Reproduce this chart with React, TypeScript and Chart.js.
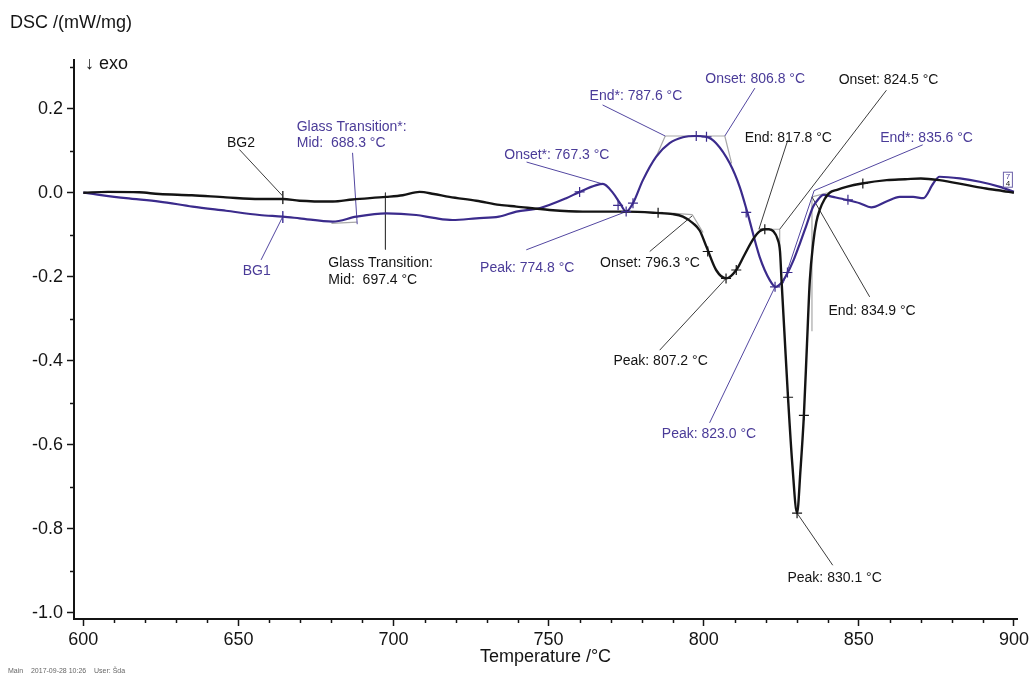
import React, { useEffect, useRef } from 'react';
import { Chart, registerables } from 'chart.js';

Chart.register(...registerables);

// ---- Curve data (Temperature °C, DSC mW/mg) ----
const blackT = [600, 608, 618, 624.5, 635, 646, 656.8, 664.3, 669.7, 680.4, 686.8, 697.6, 703, 708.4, 713, 718, 726.7, 734.2, 739.6, 750.3, 761, 775, 784.7, 790, 793.3, 796.6, 798.7, 800.9, 804, 807.3, 810.5, 813, 816, 818, 819.7, 821, 822.5, 823.8, 824.6, 825.1, 826, 827.2, 828.6, 830.1, 831.2, 832.3, 833.3, 834.2, 835.3, 836.3, 837.4, 839, 840.6, 843, 846, 851, 859, 865, 870, 876, 885, 891, 895, 900];
const blackV = [0, 0.002, 0.001, -0.003, -0.006, -0.011, -0.015, -0.015, -0.019, -0.021, -0.016, -0.01, -0.006, 0.002, -0.003, -0.01, -0.019, -0.029, -0.033, -0.041, -0.045, -0.045, -0.048, -0.051, -0.057, -0.073, -0.09, -0.129, -0.184, -0.204, -0.184, -0.15, -0.11, -0.092, -0.087, -0.087, -0.092, -0.11, -0.14, -0.21, -0.33, -0.49, -0.65, -0.763, -0.66, -0.53, -0.36, -0.21, -0.12, -0.07, -0.041, -0.015, 0.0, 0.007, 0.014, 0.022, 0.03, 0.032, 0.034, 0.03, 0.018, 0.01, 0.006, 0.0];

const blueT = [600, 613.8, 624.5, 635.2, 646, 656.8, 664.3, 669.7, 680.4, 688, 697.6, 707.3, 713, 719, 726.7, 734, 739.6, 747, 755.7, 760, 765.4, 767.5, 770.8, 773, 775, 777.2, 780.4, 784.7, 789, 793.3, 797.6, 800.9, 804, 808.4, 811.6, 814, 818, 821.3, 823.2, 825, 826.7, 829, 831, 833, 835.3, 837, 838.5, 841.7, 846, 850.3, 854, 858.9, 863.2, 867.5, 870.8, 874, 876, 882.6, 889, 895.5, 900];
const blueV = [0, -0.013, -0.021, -0.033, -0.043, -0.053, -0.057, -0.061, -0.069, -0.057, -0.049, -0.053, -0.06, -0.065, -0.061, -0.057, -0.045, -0.037, -0.013, 0.002, 0.018, 0.021, -0.001, -0.025, -0.045, -0.025, 0.03, 0.086, 0.118, 0.132, 0.135, 0.133, 0.118, 0.07, 0.014, -0.045, -0.152, -0.208, -0.224, -0.215, -0.196, -0.16, -0.121, -0.08, -0.033, -0.015, -0.005, -0.01, -0.017, -0.025, -0.035, -0.021, -0.01, -0.01, -0.013, 0.022, 0.038, 0.034, 0.026, 0.014, 0.002];

// ---- Evaluation markers (+) ----
const blackCrossT = [785.3, 801.3, 807.2, 810.5, 819.7, 827.2, 830.1, 832.3, 851.3];
const blackCrossV = [-0.048, -0.14, -0.204, -0.184, -0.087, -0.487, -0.763, -0.53, 0.022];
const blueCrossT = [760, 772.4, 775, 777.2, 797.6, 800.9, 813.7, 823.0, 827.0, 846.5];
const blueCrossV = [0.002, -0.03, -0.045, -0.025, 0.135, 0.133, -0.047, -0.224, -0.19, -0.017];

// ---- Axis ticks ----
const xTicks = [600, 650, 700, 750, 800, 850, 900];
const xMinor = [610, 620, 630, 640, 660, 670, 680, 690, 710, 720, 730, 740, 760, 770, 780, 790, 810, 820, 830, 840, 860, 870, 880, 890];
const yTicks = [-1.0, -0.8, -0.6, -0.4, -0.2, 0.0, 0.2];
const yMinor = [-0.9, -0.7, -0.5, -0.3, -0.1, 0.1, 0.3];

// ---- Annotation texts (anchored in data units: temperature, value) ----
const blackLabels = [
  { lines: ['BG2'], t: 646.3, v: 0.119 },
  { lines: ['Glass Transition:', 'Mid:  697.4 °C'], t: 679, v: -0.168 },
  { lines: ['Onset: 796.3 °C'], t: 766.6, v: -0.168 },
  { lines: ['End: 817.8 °C'], t: 813.2, v: 0.13 },
  { lines: ['Onset: 824.5 °C'], t: 843.5, v: 0.267 },
  { lines: ['End: 834.9 °C'], t: 840.2, v: -0.283 },
  { lines: ['Peak: 807.2 °C'], t: 770.9, v: -0.401 },
  { lines: ['Peak: 830.1 °C'], t: 827, v: -0.917 },
];
const blueLabels = [
  { lines: ['BG1'], t: 651.4, v: -0.186 },
  { lines: ['Glass Transition*:', 'Mid:  688.3 °C'], t: 668.8, v: 0.157 },
  { lines: ['Onset*: 767.3 °C'], t: 735.7, v: 0.09 },
  { lines: ['End*: 787.6 °C'], t: 763.2, v: 0.229 },
  { lines: ['Peak: 774.8 °C'], t: 727.9, v: -0.18 },
  { lines: ['Onset: 806.8 °C'], t: 800.5, v: 0.27 },
  { lines: ['End*: 835.6 °C'], t: 856.9, v: 0.13 },
  { lines: ['Peak: 823.0 °C'], t: 786.5, v: -0.575 },
];

// ---- Leader / construction segments [t1, v1, t2, v2] ----
const blackLeaders = [
  [650.3, 0.103, 664.3, -0.008],
  [664.3, 0.004, 664.3, -0.027],
  [697.4, 0.0, 697.4, -0.135],
  [782.6, -0.14, 796.3, -0.055],
  [827.1, 0.125, 817.8, -0.087],
  [858.9, 0.244, 824.5, -0.087],
  [853.5, -0.248, 834.9, -0.01],
  [785.8, -0.375, 807.2, -0.204],
  [841.6, -0.887, 830.1, -0.763],
];
const blueLeaders = [
  [657.3, -0.16, 664.3, -0.057],
  [664.3, -0.044, 664.3, -0.072],
  [686.8, 0.095, 688.3, -0.075],
  [742.9, 0.073, 767.4, 0.021],
  [767.4, 0.209, 787.6, 0.135],
  [816.5, 0.249, 806.8, 0.135],
  [870.6, 0.114, 835.6, 0.005],
  [742.8, -0.136, 775, -0.045],
  [801.9, -0.548, 823.0, -0.224],
  [835.6, 0.005, 825.6, -0.216],
];
const greyLines = [
  [787.6, 0.135, 806.8, 0.135],
  [787.6, 0.135, 784.7, 0.086],
  [806.8, 0.135, 809, 0.07],
  [786, -0.047, 796.3, -0.052],
  [796.3, -0.052, 799.8, -0.095],
  [817.8, -0.087, 824.5, -0.087],
  [824.5, -0.087, 824.5, -0.135],
  [834.9, -0.01, 834.9, -0.33],
  [834.9, -0.01, 840, 0.0],
  [680, -0.073, 688.3, -0.07],
];

const FONT = '"Liberation Sans", Arial, Helvetica, sans-serif';
const BLACK = '#141414';
const BLUE_LINE = '#3b2b8c';
const BLUE_TEXT = '#4a3b98';

const toPts = (ts: number[], vs: number[]) => ts.map((t, i) => ({ x: t, y: vs[i] }));
const segPts = (segs: number[][]) =>
  segs.flatMap((s) => [
    { x: s[0], y: s[1] },
    { x: s[2], y: s[3] },
    { x: s[2], y: null as any },
  ]);

const decorPlugin = {
  id: 'decor',
  afterDraw(chart: any) {
    const { ctx, chartArea, scales } = chart;
    const x = scales.x;
    const y = scales.y;
    ctx.save();
    // minor ticks
    ctx.strokeStyle = BLACK;
    ctx.lineWidth = 1.5;
    yMinor.forEach((v) => {
      const py = Math.round(y.getPixelForValue(v)) + 0.5;
      ctx.beginPath();
      ctx.moveTo(chartArea.left - 4, py);
      ctx.lineTo(chartArea.left, py);
      ctx.stroke();
    });
    xMinor.forEach((t) => {
      const px = Math.round(x.getPixelForValue(t)) + 0.5;
      ctx.beginPath();
      ctx.moveTo(px, chartArea.bottom);
      ctx.lineTo(px, chartArea.bottom + 4);
      ctx.stroke();
    });

    // annotation labels
    ctx.font = `14px ${FONT}`;
    ctx.textAlign = 'left';
    ctx.textBaseline = 'middle';
    const drawLabels = (arr: any[], color: string) => {
      ctx.fillStyle = color;
      arr.forEach((a) => {
        const px = x.getPixelForValue(a.t);
        const py = y.getPixelForValue(a.v);
        a.lines.forEach((l: string, i: number) => ctx.fillText(l, px, py + i * 16.7));
      });
    };
    drawLabels(blackLabels, BLACK);
    drawLabels(blueLabels, BLUE_TEXT);

    // small curve-number box at the end of the curves
    const ex = x.getPixelForValue(900);
    const ey = y.getPixelForValue(0);
    ctx.strokeStyle = '#6a5fa8';
    ctx.lineWidth = 1;
    ctx.strokeRect(ex - 10.5, ey - 20.5, 9, 15);
    ctx.fillStyle = '#4a3b98';
    ctx.font = `8px ${FONT}`;
    ctx.textAlign = 'center';
    ctx.fillText('7', ex - 6, ey - 16);
    ctx.fillStyle = BLACK;
    ctx.fillText('4', ex - 6, ey - 9);

    // axis titles
    ctx.fillStyle = BLACK;
    ctx.font = `18px ${FONT}`;
    ctx.textAlign = 'left';
    ctx.fillText('DSC /(mW/mg)', 10, 23);
    ctx.fillText('\u2193 exo', chartArea.left + 11, chartArea.top + 4);
    ctx.textAlign = 'center';
    ctx.fillText('Temperature /°C', (chartArea.left + chartArea.right) / 2, 657);

    // footnote
    ctx.font = `7px ${FONT}`;
    ctx.textAlign = 'left';
    ctx.fillStyle = '#666';
    ctx.fillText('Main    2017-09-28 10:26    User: Šda', 8, 671);
    ctx.restore();
  },
};

export default function App() {
  const canvasRef = useRef<HTMLCanvasElement | null>(null);

  useEffect(() => {
    if (!canvasRef.current) return;
    const chart = new Chart(canvasRef.current, {
      type: 'line',
      data: {
        datasets: [
          {
            label: 'black marks',
            data: toPts(blackCrossT, blackCrossV),
            showLine: false,
            pointStyle: 'cross',
            pointRadius: 5,
            pointBorderWidth: 1.2,
            borderColor: BLACK,
            backgroundColor: BLACK,
          },
          {
            label: 'blue marks',
            data: toPts(blueCrossT, blueCrossV),
            showLine: false,
            pointStyle: 'cross',
            pointRadius: 5,
            pointBorderWidth: 1.2,
            borderColor: BLUE_LINE,
            backgroundColor: BLUE_LINE,
          },
          {
            label: 'black',
            data: toPts(blackT, blackV),
            borderColor: BLACK,
            borderWidth: 2.4,
            pointRadius: 0,
            cubicInterpolationMode: 'monotone',
          },
          {
            label: 'blue',
            data: toPts(blueT, blueV),
            borderColor: BLUE_LINE,
            borderWidth: 2.2,
            pointRadius: 0,
            cubicInterpolationMode: 'monotone',
          },
          {
            label: 'black leaders',
            data: segPts(blackLeaders),
            borderColor: '#3c3c3c',
            borderWidth: 1,
            pointRadius: 0,
            tension: 0,
            spanGaps: false,
          },
          {
            label: 'blue leaders',
            data: segPts(blueLeaders),
            borderColor: '#5246a0',
            borderWidth: 1,
            pointRadius: 0,
            tension: 0,
            spanGaps: false,
          },
          {
            label: 'construction',
            data: segPts(greyLines),
            borderColor: '#a8a8a8',
            borderWidth: 1.2,
            pointRadius: 0,
            tension: 0,
            spanGaps: false,
          },
        ],
      },
      options: {
        animation: false,
        responsive: false,
        devicePixelRatio: 1,
        layout: { padding: { top: 60, right: 15, left: 0, bottom: 0 } },
        plugins: {
          legend: { display: false },
          tooltip: { enabled: false },
          title: { display: false },
        },
        scales: {
          x: {
            type: 'linear',
            min: 597,
            max: 901,
            afterBuildTicks: (s: any) => {
              s.ticks = xTicks.map((v) => ({ value: v }));
            },
            afterFit: (s: any) => {
              s.height = 56;
            },
            grid: { display: true, drawOnChartArea: false, drawTicks: true, tickLength: 7, tickColor: BLACK, tickWidth: 1.5 },
            border: { display: true, color: BLACK, width: 2 },
            ticks: {
              color: BLACK,
              font: { size: 18, family: FONT },
              padding: 3,
              maxRotation: 0,
              autoSkip: false,
              callback: (v: any) => String(v),
            },
          },
          y: {
            type: 'linear',
            min: -1.015,
            max: 0.316,
            afterBuildTicks: (s: any) => {
              s.ticks = yTicks.map((v) => ({ value: v }));
            },
            afterFit: (s: any) => {
              s.width = 74;
            },
            grid: { display: true, drawOnChartArea: false, drawTicks: true, tickLength: 7, tickColor: BLACK, tickWidth: 1.5 },
            border: { display: true, color: BLACK, width: 2 },
            ticks: {
              color: BLACK,
              font: { size: 18, family: FONT },
              padding: 4,
              autoSkip: false,
              callback: (v: any) => Number(v).toFixed(1),
            },
          },
        },
      } as any,
      plugins: [decorPlugin],
    });
    return () => chart.destroy();
  }, []);

  return (
    <div style={{ position: 'fixed', left: 0, top: 0, width: 1032, height: 675, background: '#fff' }}>
      <canvas ref={canvasRef} width={1032} height={675} style={{ display: 'block' }} />
    </div>
  );
}
